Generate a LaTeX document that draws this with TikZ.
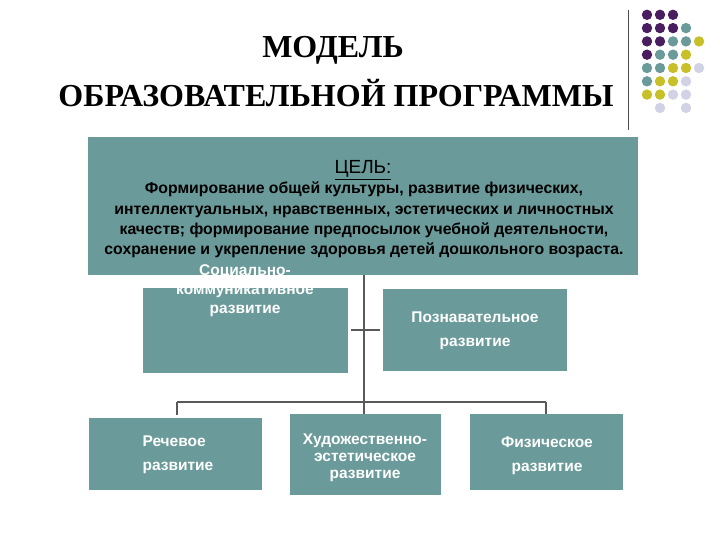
\documentclass[tikz,border=0pt]{standalone}
\usepackage{fontspec}
\setmainfont{Liberation Sans}
\newfontfamily\serifb{Liberation Serif}
\definecolor{tealb}{HTML}{6A9A9A}
\definecolor{purp}{HTML}{4A1C60}
\definecolor{yel}{HTML}{C8C028}
\definecolor{lav}{HTML}{D2D2E6}
\begin{document}
\begin{tikzpicture}[x=1pt,y=-1pt,
  box/.style={fill=tealb,draw=none},
  wt/.style={text=white,align=center},
  ln/.style={draw=black!65,line width=1.2pt}]
\useasboundingbox (0,0) rectangle (720,540);
\fill[white] (0,0) rectangle (720,540);
% title
\node[font=\serifb\bfseries\fontsize{32}{36}\selectfont] (t1) at (333,50) {МОДЕЛЬ};
\node[font=\serifb\bfseries\fontsize{32}{36}\selectfont] (t2) at (336,93) {ОБРАЗОВАТЕЛЬНОЙ ПРОГРАММЫ};
\draw[black!70,line width=0.8pt] (628,10) -- (628,130);
% dots
\foreach \c/\r/\col in {1/1/purp,2/1/purp,3/1/purp,
 1/2/purp,2/2/purp,3/2/purp,4/2/tealb,
 1/3/purp,2/3/purp,3/3/tealb,4/3/tealb,5/3/yel,
 1/4/purp,2/4/tealb,3/4/tealb,4/4/yel,
 1/5/tealb,2/5/tealb,3/5/yel,4/5/yel,5/5/lav,
 1/6/tealb,2/6/yel,3/6/yel,4/6/lav,
 1/7/yel,2/7/yel,3/7/lav,4/7/lav,
 2/8/lav,4/8/lav}
 \fill[\col] ({634+13*\c},{1.5+13.3*\r}) circle (5.2);
% goal box
\fill[box] (88,137) rectangle (638,275);
\node[font=\fontsize{19}{22}\selectfont] (gh) at (363,170) {\underline{ЦЕЛЬ:}};
\node[font=\bfseries\fontsize{15.8}{20.2}\selectfont,align=center] (gt) at (364,220)
 {Формирование общей культуры, развитие физических,\\
  интеллектуальных, нравственных, эстетических и личностных\\
  качеств; формирование предпосылок учебной деятельности,\\
  сохранение и укрепление здоровья детей дошкольного возраста.};
% lines
\coordinate (top) at (364,275);
\coordinate (mid) at (364,402);
\coordinate (l) at (177,402); \coordinate (r) at (546,402);
\draw[ln] (top) -- (mid);
\draw[ln] (l) -- (r);
\draw[ln] (l) -- ++(0,13); \draw[ln] (mid) -- ++(0,13); \draw[ln] (r) -- ++(0,13);
\draw[ln] (351,330) -- (380,330);
% middle boxes
\fill[box] (143,288) rectangle (348,373);
\node[wt,font=\bfseries\fontsize{15.5}{19}\selectfont] (soc) at (245,291) {Социально-\\коммуникативное\\развитие};
\fill[box] (383,289) rectangle (567,371);
\node[wt,font=\bfseries\fontsize{15.5}{24}\selectfont] (poz) at (475,331) {Познавательное\\развитие};
% bottom boxes
\fill[box] (89,418) rectangle (262,490);
\node[wt,align=left,font=\bfseries\fontsize{15.5}{24}\selectfont,anchor=west] (rech) at (139,455) {Речевое\\развитие};
\fill[box] (290,414) rectangle (441,495);
\node[wt,font=\bfseries\fontsize{15.5}{17}\selectfont] (hud) at (365,458) {Художественно-\\эстетическое\\развитие};
\fill[box] (470,414) rectangle (623,490);
\node[wt,font=\bfseries\fontsize{15.5}{24}\selectfont] (fiz) at (547,456) {Физическое\\развитие};
\end{tikzpicture}
\end{document}
